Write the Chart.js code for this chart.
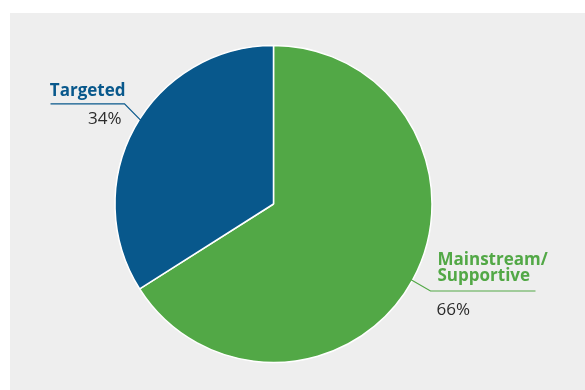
<!DOCTYPE html>
<html>
<head>
<meta charset="utf-8">
<script src="https://cdn.jsdelivr.net/npm/chart.js@4/dist/chart.umd.min.js"></script>
<style>
  html, body { margin: 0; padding: 0; background: #ffffff; }
  #wrap { position: relative; width: 585px; height: 390px; }
</style>
</head>
<body>
<div id="wrap"><canvas id="chart" width="585" height="390"></canvas></div>
<script>
// Share of funding by approach (percent)
const categories = ['Mainstream/Supportive', 'Targeted'];
const titleLines = [['Mainstream/', 'Supportive'], ['Targeted']];
const shares = [66, 34];
const sliceColors = ['#52a846', '#08588c'];

// Callout styling for each slice: angular tweaks, elbow distance, rule length, text offsets
const calloutStyles = [
  { side: 'right', edgeShift: 0, elbowShift: 0.2, elbowGap: 21, rule: 105,
    titleDX: 7, titleDY: [-26, -10.3], valueDX: 6, valueDY: 24 },
  { side: 'left', edgeShift: 3.4, elbowShift: 5.1, elbowGap: 21, rule: 74,
    titleDX: 1, titleDY: [-7.4], valueDX: -3, valueDY: 20.6 }
];

const panelBackground = {
  id: 'panelBackground',
  beforeDraw(chart) {
    const ctx = chart.ctx;
    ctx.save();
    ctx.fillStyle = '#eeeeee';
    ctx.fillRect(10, 13, chart.width - 10, chart.height - 13);
    ctx.restore();
  }
};

const callouts = {
  id: 'callouts',
  afterDatasetsDraw(chart) {
    const ctx = chart.ctx;
    const meta = chart.getDatasetMeta(0);
    const deg = Math.PI / 180;
    meta.data.forEach((arc, i) => {
      const p = arc.getProps(['x', 'y', 'startAngle', 'endAngle', 'outerRadius'], true);
      const st = calloutStyles[i];
      const color = sliceColors[i];
      const mid = (p.startAngle + p.endAngle) / 2;
      const ea = mid + st.edgeShift * deg;
      const la = mid + st.elbowShift * deg;
      const edge = { x: p.x + Math.cos(ea) * (p.outerRadius - 2), y: p.y + Math.sin(ea) * (p.outerRadius - 2) };
      const elbow = { x: p.x + Math.cos(la) * (p.outerRadius + st.elbowGap), y: p.y + Math.sin(la) * (p.outerRadius + st.elbowGap) };
      const dir = st.side === 'right' ? 1 : -1;

      ctx.save();
      ctx.strokeStyle = color;
      ctx.lineWidth = 1.2;
      ctx.beginPath();
      ctx.moveTo(edge.x, edge.y);
      ctx.lineTo(elbow.x, elbow.y);
      ctx.lineTo(elbow.x + dir * st.rule, elbow.y);
      ctx.stroke();

      ctx.textBaseline = 'alphabetic';
      ctx.textAlign = st.side === 'right' ? 'left' : 'right';
      ctx.fillStyle = color;
      ctx.font = 'bold 17px "Open Sans", sans-serif';
      titleLines[i].forEach((line, k) => {
        ctx.fillText(line, elbow.x + st.titleDX, elbow.y + st.titleDY[k]);
      });
      ctx.fillStyle = '#2b2b2b';
      ctx.font = '17px "Open Sans", sans-serif';
      ctx.fillText(shares[i] + '%', elbow.x + st.valueDX, elbow.y + st.valueDY);
      ctx.restore();
    });
  }
};

new Chart(document.getElementById('chart'), {
  type: 'pie',
  data: {
    labels: categories,
    datasets: [{
      data: shares,
      backgroundColor: sliceColors,
      borderColor: '#ffffff',
      borderWidth: 1.5,
      hoverOffset: 0,
      offset: 0
    }]
  },
  options: {
    responsive: false,
    animation: false,
    events: [],
    radius: 158.5,
    layout: { padding: { left: 0, right: 38, top: 18, bottom: 0 } },
    plugins: {
      legend: { display: false },
      tooltip: { enabled: false }
    }
  },
  plugins: [panelBackground, callouts]
});
</script>
</body>
</html>
